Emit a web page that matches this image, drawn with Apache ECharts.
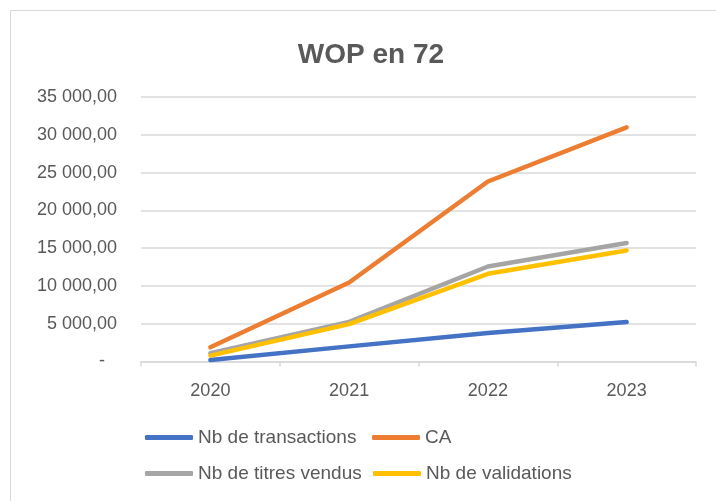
<!DOCTYPE html>
<html>
<head>
<meta charset="utf-8">
<script src="https://cdn.jsdelivr.net/npm/echarts@6/dist/echarts.min.js"></script>
<style>
html,body{margin:0;padding:0;background:#fff;}
#c{width:716px;height:501px;}
</style>
</head>
<body>
<div id="c"></div>
<script>
var categories = ['2020', '2021', '2022', '2023'];
var transactions = [200, 2000, 3780, 5220];
var ca = [1880, 10460, 23820, 30980];
var titresVendus = [1100, 5250, 12570, 15670];
var validations = [780, 4950, 11610, 14700];
var seriesNames = ['Nb de transactions', 'CA', 'Nb de titres vendus', 'Nb de validations'];
var seriesColors = ['#4472C4', '#ED7D31', '#A5A5A5', '#FFC000'];
var seriesData = [transactions, ca, titresVendus, validations];

var FONT = '"Liberation Sans", Arial, sans-serif';

function fmt(v) {
  if (v === 0) return '{z|-}';
  var s = String(Math.round(v));
  var out = '';
  while (s.length > 3) { out = ' ' + s.slice(-3) + out; s = s.slice(0, -3); }
  return s + out + ',00';
}

var chart = echarts.init(document.getElementById('c'));

function legendAt(name, left, top) {
  return {
    data: [name],
    left: left, top: top,
    icon: 'roundRect',
    itemWidth: 48, itemHeight: 5,
    padding: 0,
    textStyle: { fontFamily: FONT, fontSize: 19, color: '#595959' },
    selectedMode: false
  };
}

chart.setOption({
  animation: false,
  backgroundColor: '#ffffff',
  title: {
    text: 'WOP en 72',
    left: 366, top: 36,
    textAlign: 'center',
    textStyle: { fontFamily: FONT, fontSize: 28, fontWeight: 'bold', color: '#595959' }
  },
  graphic: [{
    type: 'rect',
    shape: { x: 10.5, y: 10.5, width: 800, height: 600 },
    style: { fill: 'none', stroke: '#d9d9d9', lineWidth: 1 },
    silent: true
  }],
  legend: [
    legendAt(seriesNames[0], 145, 428),
    legendAt(seriesNames[1], 372, 428),
    legendAt(seriesNames[2], 145, 464),
    legendAt(seriesNames[3], 373, 464)
  ],
  grid: { left: 141, right: 20, top: 97, bottom: 139.5 },
  xAxis: {
    type: 'category',
    data: categories,
    boundaryGap: true,
    axisLine: { lineStyle: { color: '#d9d9d9', width: 1.5 } },
    axisTick: { show: true, alignWithLabel: false, length: 5, lineStyle: { color: '#d9d9d9', width: 1.5 } },
    axisLabel: { fontFamily: FONT, fontSize: 18, color: '#595959', margin: 21 }
  },
  yAxis: {
    type: 'value',
    min: 0, max: 35000, interval: 5000,
    axisLine: { show: false },
    axisTick: { show: false },
    splitLine: { lineStyle: { color: '#d9d9d9', width: 1.5 } },
    axisLabel: {
      fontFamily: FONT, fontSize: 18, color: '#595959', margin: 24,
      formatter: fmt,
      rich: { z: { fontFamily: FONT, fontSize: 18, color: '#595959', padding: [0, 12, 0, 0] } }
    }
  },
  series: seriesData.map(function (d, i) {
    return {
      name: seriesNames[i],
      type: 'line',
      data: d,
      symbol: 'none',
      color: seriesColors[i],
      lineStyle: { color: seriesColors[i], width: 4.5, cap: 'round', join: 'round' },
      itemStyle: { color: seriesColors[i] }
    };
  })
});
</script>
</body>
</html>
